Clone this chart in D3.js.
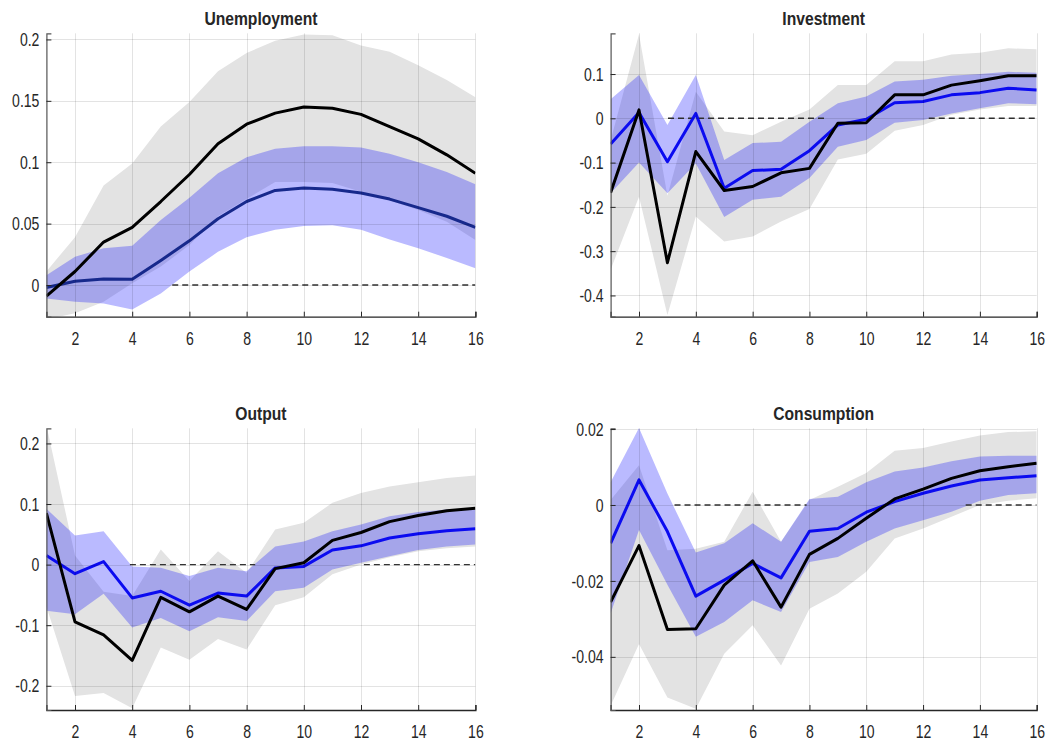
<!DOCTYPE html>
<html><head><meta charset="utf-8">
<script src="https://cdn.jsdelivr.net/npm/d3@7"></script>
<style>
html,body{margin:0;padding:0;background:#fff;}
svg text{font-family:"Liberation Sans",Arial,Helvetica,sans-serif;fill:#262626;}
</style></head>
<body>
<svg id="chart" width="1057" height="745"></svg>
<script>
// ---------------- data ----------------
const horizons = [1,2,3,4,5,6,7,8,9,10,11,12,13,14,15,16];
const xTicks = [2,4,6,8,10,12,14,16];
const titles = ["Unemployment","Investment","Output","Consumption"];

// Unemployment
const unempBlack  = [-0.009,0.011,0.035,0.047,0.068,0.090,0.115,0.131,0.140,0.145,0.144,0.139,0.129,0.119,0.106,0.091];
const unempBlue   = [-0.002,0.003,0.005,0.0046,0.020,0.036,0.054,0.068,0.077,0.079,0.078,0.075,0.070,0.063,0.056,0.047];
const unempBlueHi = [0.008,0.023,0.030,0.032,0.053,0.071,0.091,0.104,0.111,0.113,0.113,0.112,0.107,0.100,0.092,0.082];
const unempBlueLo = [-0.011,-0.0136,-0.015,-0.020,-0.007,0.011,0.027,0.039,0.045,0.048,0.0486,0.045,0.037,0.030,0.022,0.0136];
const unempGreyHi = [0.011,0.039,0.081,0.099,0.129,0.149,0.174,0.189,0.199,0.204,0.2035,0.195,0.190,0.179,0.167,0.153];
const unempGreyLo = [-0.028,-0.023,-0.0136,0.0014,0.015,0.0326,0.056,0.070,0.084,0.084,0.083,0.076,0.069,0.061,0.0515,0.0366];
const unempYTicks = [0,0.05,0.1,0.15,0.2];
const unempYLim = [-0.0258,0.205];
const unempZero = [[5.4,16]];

// Investment
const invBlack  = [-0.168,0.019,-0.326,-0.075,-0.163,-0.154,-0.123,-0.113,-0.011,-0.010,0.053,0.053,0.075,0.085,0.096,0.096];
const invBlue   = [-0.058,0.013,-0.098,0.011,-0.158,-0.118,-0.115,-0.073,-0.015,-0.002,0.035,0.038,0.053,0.058,0.068,0.064];
const invBlueHi = [0.043,0.098,-0.015,0.098,-0.094,-0.056,-0.053,-0.0075,0.034,0.049,0.083,0.087,0.096,0.100,0.105,0.103];
const invBlueLo = [-0.169,-0.100,-0.169,-0.102,-0.223,-0.184,-0.177,-0.135,-0.064,-0.049,-0.010,-0.004,0.011,0.023,0.034,0.032];
const invGreyHi = [-0.050,0.190,-0.175,0.060,-0.030,-0.038,-0.008,0.020,0.075,0.075,0.129,0.129,0.144,0.148,0.158,0.156];
const invGreyLo = [-0.342,-0.177,-0.444,-0.222,-0.278,-0.267,-0.233,-0.205,-0.093,-0.080,-0.028,-0.015,0.008,0.020,0.028,0.028];
const invYTicks = [-0.4,-0.3,-0.2,-0.1,0,0.1];
const invYLim = [-0.448,0.192];
const invZero = [[3.02,8.6],[12.2,16]];

// Output
const outBlack  = [0.085,-0.0945,-0.116,-0.158,-0.054,-0.078,-0.052,-0.074,-0.0066,0.003,0.040,0.053,0.071,0.081,0.089,0.093];
const outBlue   = [0.015,-0.015,0.005,-0.055,-0.044,-0.067,-0.047,-0.052,-0.0055,-0.003,0.024,0.031,0.044,0.051,0.056,0.059];
const outBlueHi = [0.092,0.048,0.055,-0.003,-0.005,-0.019,-0.005,-0.011,0.030,0.038,0.055,0.066,0.080,0.087,0.091,0.091];
const outBlueLo = [-0.076,-0.082,-0.048,-0.104,-0.088,-0.110,-0.087,-0.093,-0.044,-0.038,-0.008,0.003,0.014,0.024,0.030,0.033];
const outGreyHi = [0.230,0.015,-0.045,-0.052,0.025,-0.027,0.022,-0.014,0.058,0.069,0.102,0.118,0.129,0.136,0.143,0.147];
const outGreyLo = [-0.069,-0.217,-0.212,-0.237,-0.137,-0.157,-0.123,-0.140,-0.067,-0.054,-0.016,0.000,0.012,0.022,0.027,0.030];
const outYTicks = [-0.2,-0.1,0,0.1,0.2];
const outYLim = [-0.24,0.225];
const outZero = [[3.92,8.3],[12.1,16]];

// Consumption
const consBlack  = [-0.0256,-0.0107,-0.0328,-0.0326,-0.0211,-0.0147,-0.0269,-0.0130,-0.0088,-0.0035,0.0016,0.0042,0.0070,0.0090,0.0101,0.0110];
const consBlue   = [-0.0101,0.0066,-0.0070,-0.0240,-0.0198,-0.0154,-0.0192,-0.0069,-0.0062,-0.0019,0.0009,0.0031,0.0050,0.0066,0.0072,0.0077];
const consBlueHi = [0.0060,0.0203,0.0030,-0.0125,-0.0101,-0.0048,-0.0097,0.0016,0.0022,0.0060,0.0088,0.0099,0.0115,0.0128,0.0130,0.0130];
const consBlueLo = [-0.0286,-0.0066,-0.0210,-0.0347,-0.0308,-0.0251,-0.0282,-0.0150,-0.0137,-0.0097,-0.0062,-0.0040,-0.0018,0.0011,0.0026,0.0031];
const consGreyHi = [0.0013,0.0105,-0.0119,-0.0115,-0.0097,0.0035,-0.0097,0.0013,0.0048,0.0084,0.0143,0.0150,0.0167,0.0183,0.0192,0.0194];
const consGreyLo = [-0.0529,-0.0366,-0.0507,-0.0537,-0.0392,-0.0317,-0.0423,-0.0273,-0.0233,-0.0176,-0.0088,-0.0062,-0.0031,0.0000,0.0011,0.0018];
const consYTicks = [-0.04,-0.02,0,0.02];
const consYLim = [-0.054,0.0202];
const consZero = [[3.25,7.9],[13.5,16]];

// ---------------- layout ----------------
const panels = [
  {title:titles[0], black:unempBlack, blue:unempBlue, bHi:unempBlueHi, bLo:unempBlueLo, gHi:unempGreyHi, gLo:unempGreyLo, yTicks:unempYTicks, yLim:unempYLim, zero:unempZero,
   left:46.4, right:475.4, top:33.3, bottom:316.7, blueColor:"#17298c"},
  {title:titles[1], black:invBlack, blue:invBlue, bHi:invBlueHi, bLo:invBlueLo, gHi:invGreyHi, gLo:invGreyLo, yTicks:invYTicks, yLim:invYLim, zero:invZero,
   left:610.6, right:1036.7, top:33.3, bottom:316.7, blueColor:"#0b0bf0"},
  {title:titles[2], black:outBlack, blue:outBlue, bHi:outBlueHi, bLo:outBlueLo, gHi:outGreyHi, gLo:outGreyLo, yTicks:outYTicks, yLim:outYLim, zero:outZero,
   left:46.4, right:475.4, top:428.3, bottom:710, blueColor:"#0b0bf0"},
  {title:titles[3], black:consBlack, blue:consBlue, bHi:consBlueHi, bLo:consBlueLo, gHi:consGreyHi, gLo:consGreyLo, yTicks:consYTicks, yLim:consYLim, zero:consZero,
   left:610.6, right:1036.7, top:428.3, bottom:710, blueColor:"#0b0bf0"}
];

const svg = d3.select("#chart");
const fmt = v => {
  if (v === 0) return "0";
  let s = String(+v.toFixed(4));
  return s;
};

panels.forEach((p, pi) => {
  const x = d3.scaleLinear().domain([1,16]).range([p.left, p.right]);
  const y = d3.scaleLinear().domain(p.yLim).range([p.bottom, p.top]);
  const g = svg.append("g");
  const clipId = "clip" + pi;
  svg.append("defs").append("clipPath").attr("id", clipId)
    .append("rect").attr("x", p.left).attr("y", p.top)
    .attr("width", p.right - p.left).attr("height", p.bottom - p.top);
  const plot = g.append("g").attr("clip-path", `url(#${clipId})`);

  const area = (lo, hi) => d3.area()
    .x((d,i) => x(horizons[i]))
    .y0((d,i) => y(lo[i]))
    .y1((d,i) => y(hi[i]))(horizons);

  plot.append("path").attr("d", area(p.gLo, p.gHi)).attr("fill", "#e3e3e3");
  plot.append("path").attr("d", area(p.bLo, p.bHi)).attr("fill", "rgb(0,0,255)").attr("fill-opacity", 0.27);

  // grid
  const grid = g.append("g").attr("stroke", "#000").attr("stroke-opacity", 0.11).attr("stroke-width", 1);
  xTicks.forEach(t => grid.append("line").attr("x1", Math.round(x(t))+0.5).attr("x2", Math.round(x(t))+0.5)
    .attr("y1", p.top).attr("y2", p.bottom));
  p.yTicks.forEach(t => grid.append("line").attr("x1", p.left).attr("x2", p.right)
    .attr("y1", Math.round(y(t))+0.5).attr("y2", Math.round(y(t))+0.5));

  // zero line segments
  p.zero.forEach(seg => {
    plot.append("line").attr("x1", x(seg[0])).attr("x2", x(seg[1]))
      .attr("y1", y(0)).attr("y2", y(0))
      .attr("stroke", "#333").attr("stroke-width", 1.4).attr("stroke-dasharray", "6,4");
  });

  const line = vals => d3.line().x((d,i) => x(horizons[i])).y((d,i) => y(vals[i]))(horizons);
  plot.append("path").attr("d", line(p.blue)).attr("fill", "none")
    .attr("stroke", p.blueColor).attr("stroke-width", 3).attr("stroke-linejoin", "round");
  plot.append("path").attr("d", line(p.black)).attr("fill", "none")
    .attr("stroke", "#000").attr("stroke-width", 3).attr("stroke-linejoin", "round");

  // axes
  const xAxis = d3.axisBottom(x).tickValues(xTicks).tickSize(-5).tickPadding(10).tickFormat(d3.format("d"));
  const gx = g.append("g").attr("transform", `translate(0,${p.bottom})`).call(xAxis);
  gx.select(".domain").attr("stroke", "#262626").attr("stroke-width", 1.3);
  gx.selectAll(".tick line").attr("stroke", "#262626");
  gx.selectAll(".tick text").attr("font-size", 18).attr("fill", "#262626")
    .attr("y", 0).attr("dy", 0)
    .attr("transform", "translate(0,28) scale(0.78,1)");

  const yAxis = d3.axisLeft(y).tickValues(p.yTicks).tickSize(-5).tickPadding(8).tickFormat(fmt);
  const gy = g.append("g").attr("transform", `translate(${p.left},0)`).call(yAxis);
  gy.select(".domain").attr("stroke", "#555").attr("stroke-width", 1.2);
  gy.selectAll(".tick line").attr("stroke", "#262626");
  gy.selectAll(".tick text").attr("font-size", 18).attr("fill", "#262626")
    .attr("x", 0).attr("dy", "0.34em")
    .attr("transform", "translate(-7,0) scale(0.78,1)");
  g.selectAll(".domain").attr("d", function() { return d3.select(this).attr("d"); });

  // title
  g.append("text").attr("transform", `translate(${(p.left + p.right)/2},${p.top - 8}) scale(0.87,1)`)
    .attr("text-anchor", "middle").attr("font-size", 18).attr("font-weight", "bold")
    .attr("fill", "#000").text(p.title);
});
</script>
</body></html>
